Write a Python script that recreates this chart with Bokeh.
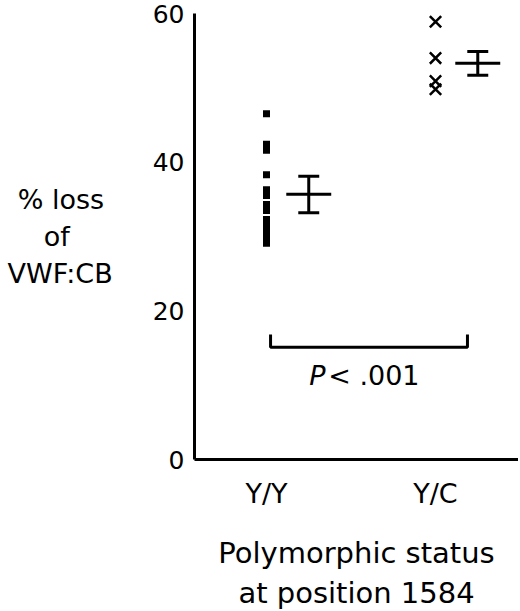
from bokeh.plotting import figure
from bokeh.models import Range1d, FixedTicker, Label
from bokeh.embed import file_html
from bokeh.resources import INLINE

# ---- data ----
categories = ["Y/Y", "Y/C"]
cat_pos = [1, 2]
yy_values = [46.5, 42.4, 41.6, 38.3, 36.3, 35.5, 34.3, 33.5, 32.3, 31.5, 30.7, 29.9, 29.1]
yc_values = [58.9, 54.0, 50.9, 49.8]
means = [35.7, 53.3]
upper = [38.1, 54.9]
lower = [33.2, 51.7]
y_ticks = [0, 20, 40, 60]
bracket_x = [1.024, 2.189]
bracket_y = [15.1, 16.8]
p_text_y = 11.3
NB = "\u00a0"
y_label_lines = ["% loss" + NB, "of" + NB * 5, "VWF:CB"]
x_label_lines = ["Polymorphic status", "at position 1584"]

FONT = "DejaVu Sans"

p = figure(width=518, height=614, output_backend="svg", toolbar_location=None,
           x_range=Range1d(0.574, 2.491), y_range=Range1d(0, 60),
           min_border_left=194, min_border_right=0, min_border_top=13,
           min_border_bottom=155)
p.outline_line_color = None
p.xgrid.visible = False
p.ygrid.visible = False
p.background_fill_color = "white"
p.border_fill_color = "white"

for ax in (p.xaxis, p.yaxis):
    ax.axis_line_width = 3
    ax.axis_line_color = "black"
    ax.major_tick_line_color = None
    ax.minor_tick_line_color = None
    ax.major_tick_out = 0
    ax.major_tick_in = 0
    ax.major_label_text_font = FONT
    ax.major_label_text_color = "black"
    ax.axis_label_text_font = FONT
    ax.axis_label_text_font_style = "normal"
    ax.axis_label_text_color = "black"

p.yaxis.ticker = FixedTicker(ticks=y_ticks)
p.yaxis.major_label_text_font_size = "25px"
p.yaxis.major_label_standoff = 10

p.xaxis.ticker = FixedTicker(ticks=cat_pos)
p.xaxis.major_label_overrides = {c: n for c, n in zip(cat_pos, categories)}
p.xaxis.major_label_text_font_size = "27px"
p.xaxis.major_label_standoff = 18

# x axis label (two lines)
p.xaxis.axis_label = "\n".join(x_label_lines)
p.xaxis.axis_label_text_font_size = "29px"
p.xaxis.axis_label_standoff = 24
p.xaxis.axis_label_text_align = "center"

# y axis label (horizontal, three lines)
yax = p.yaxis[0]
yax.axis_label = "\n".join(y_label_lines)
yax.axis_label_text_font_size = "27px"
yax.axis_label_standoff = 37
yax.axis_label_text_align = "center"
if "axis_label_orientation" in yax.properties():
    yax.axis_label_orientation = "horizontal"

# points
p.scatter([cat_pos[0]] * len(yy_values), yy_values, marker="square", size=7,
          color="black", line_width=0)
p.scatter([cat_pos[1]] * len(yc_values), yc_values, marker="x", size=16,
          line_color="black", line_width=2.5)

# error bars (offset right of points)
off = 0.25
mh = 0.133
ch = 0.062
ex = [c + off for c in cat_pos]
p.segment(x0=[x - mh for x in ex], y0=means, x1=[x + mh for x in ex], y1=means,
          line_color="black", line_width=3)
p.segment(x0=ex, y0=lower, x1=ex, y1=upper, line_color="black", line_width=3)
p.segment(x0=[x - ch for x in ex] * 2, y0=upper + lower,
          x1=[x + ch for x in ex] * 2, y1=upper + lower,
          line_color="black", line_width=3)

# significance bracket
p.line([bracket_x[0], bracket_x[0], bracket_x[1], bracket_x[1]],
       [bracket_y[1], bracket_y[0], bracket_y[0], bracket_y[1]],
       line_color="black", line_width=3)

p.add_layout(Label(x=1.35, y=p_text_y, text="P", text_font=FONT,
                   text_font_style="italic", text_font_size="27px",
                   text_align="right", text_baseline="middle", text_color="black"))
p.add_layout(Label(x=1.365, y=p_text_y, text="< .001", text_font=FONT,
                   text_font_size="27px", text_align="left",
                   text_baseline="middle", text_color="black"))

open("out.html", "w").write(file_html(p, INLINE))
